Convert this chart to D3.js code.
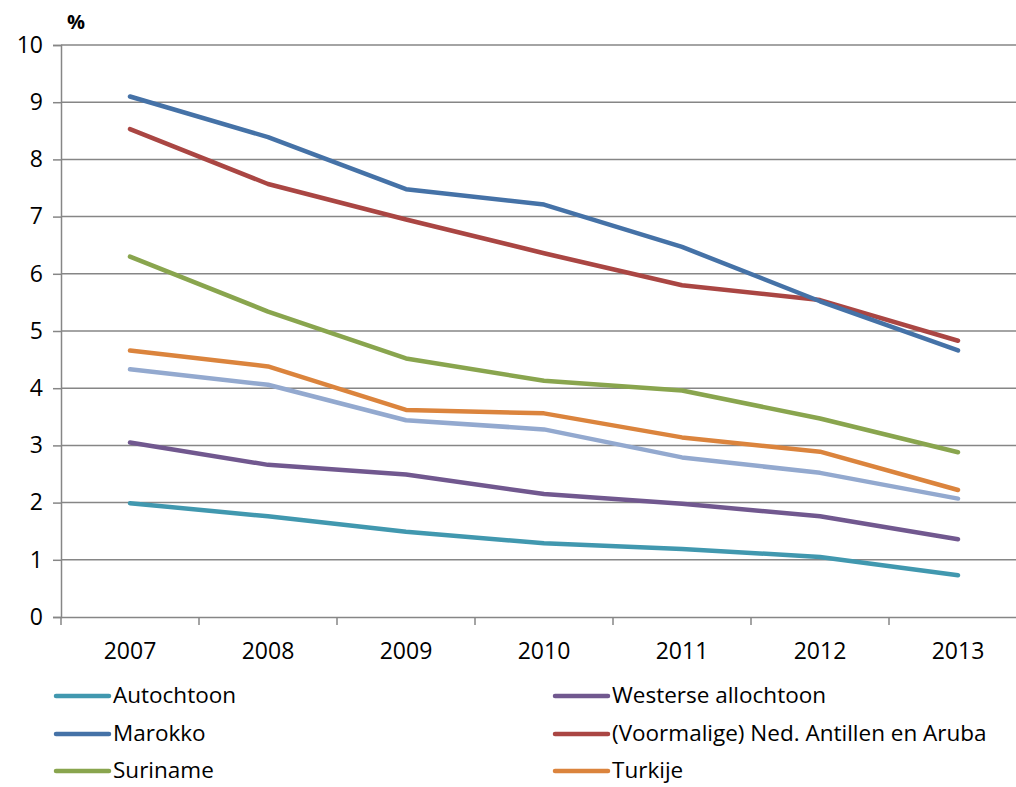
<!DOCTYPE html>
<html>
<head>
<meta charset="utf-8">
<script src="https://cdn.jsdelivr.net/npm/d3@7"></script>
<style>
  html, body { margin: 0; padding: 0; background: #fff; }
  svg { display: block; font-family: "Open Sans", "Liberation Sans", sans-serif; }
</style>
</head>
<body>
<svg id="chart" width="1016" height="787"></svg>
<script>
// Years on the category axis
const years = ["2007", "2008", "2009", "2010", "2011", "2012", "2013"];

// Percentages per group
const autochtoon      = [1.99, 1.76, 1.49, 1.29, 1.19, 1.05, 0.73];
const westers         = [3.05, 2.66, 2.49, 2.15, 1.98, 1.76, 1.36];
const marokko         = [9.10, 8.39, 7.48, 7.21, 6.47, 5.52, 4.66];
const antillen        = [8.53, 7.57, 6.95, 6.36, 5.80, 5.54, 4.83];
const suriname        = [6.30, 5.34, 4.52, 4.13, 3.96, 3.47, 2.88];
const turkije         = [4.66, 4.38, 3.62, 3.56, 3.14, 2.89, 2.22];
const overigNietWest  = [4.33, 4.06, 3.44, 3.28, 2.79, 2.52, 2.07];

const yTicks = [0, 1, 2, 3, 4, 5, 6, 7, 8, 9, 10];

const series = [
  { name: "Autochtoon", values: autochtoon, color: "#4198AF", legend: [0, 0] },
  { name: "Westerse allochtoon", values: westers, color: "#71588F", legend: [1, 0] },
  { name: "Marokko", values: marokko, color: "#4572A7", legend: [0, 1] },
  { name: "(Voormalige) Ned. Antillen en Aruba", values: antillen, color: "#AA4643", legend: [1, 1] },
  { name: "Suriname", values: suriname, color: "#89A54E", legend: [0, 2] },
  { name: "Turkije", values: turkije, color: "#DB843D", legend: [1, 2] },
  { name: "Overig niet-westers", values: overigNietWest, color: "#93A9CF", legend: null }
];

const svg = d3.select("#chart");
const plot = { left: 61, right: 1027, top: 45, bottom: 617 };
const fontSize = 23;

const x = d3.scaleBand().domain(years).range([plot.left, plot.right]);
const y = d3.scaleLinear().domain([0, 10]).range([plot.bottom, plot.top]);

const gridColor = "#868686";

// Horizontal gridlines
svg.append("g")
  .selectAll("line")
  .data(yTicks.filter(d => d > 0))
  .join("line")
  .attr("x1", plot.left).attr("x2", plot.right)
  .attr("y1", d => y(d)).attr("y2", d => y(d))
  .attr("stroke", gridColor).attr("stroke-width", 1.5);

// Y axis
const yAxis = svg.append("g")
  .attr("transform", `translate(${plot.left},0)`)
  .call(d3.axisLeft(y).tickValues(yTicks).tickSize(8).tickPadding(10).tickFormat(d3.format("d")));
yAxis.select(".domain").attr("stroke", gridColor).attr("stroke-width", 1.5);
yAxis.selectAll(".tick line").attr("stroke", gridColor).attr("stroke-width", 1.5);
yAxis.selectAll(".tick text").attr("font-size", fontSize).attr("fill", "#000")
  .attr("font-family", "Open Sans, sans-serif");

// X axis with ticks between categories
const xAxis = svg.append("g")
  .attr("transform", `translate(0,${plot.bottom})`)
  .call(d3.axisBottom(x).tickSize(0).tickPadding(26));
xAxis.select(".domain").attr("stroke", gridColor).attr("stroke-width", 1.5);
xAxis.selectAll(".tick text").attr("font-size", fontSize).attr("fill", "#000")
  .attr("font-family", "Open Sans, sans-serif");
xAxis.selectAll("line.sep")
  .data(years.concat(["end"]))
  .join("line")
  .attr("class", "sep")
  .attr("x1", (d, i) => plot.left + i * x.step())
  .attr("x2", (d, i) => plot.left + i * x.step())
  .attr("y1", 0).attr("y2", 8)
  .attr("stroke", gridColor).attr("stroke-width", 1.5);

// Unit label
svg.append("text")
  .attr("x", 67).attr("y", 29)
  .attr("font-size", 20).attr("font-weight", "bold")
  .text("%");

// Series lines
const line = d3.line()
  .x((d, i) => x(years[i]) + x.bandwidth() / 2)
  .y(d => y(d));

const drawOrder = [6, 0, 1, 4, 5, 3, 2];
svg.append("g")
  .selectAll("path")
  .data(drawOrder.map(i => series[i]))
  .join("path")
  .attr("d", d => line(d.values))
  .attr("fill", "none")
  .attr("stroke", d => d.color)
  .attr("stroke-width", 4.5)
  .attr("stroke-linecap", "round")
  .attr("stroke-linejoin", "round");

// Legend: two columns, three rows
const legendCols = [56, 555];
const legendRows = [696, 734, 771];
const leg = svg.append("g")
  .selectAll("g")
  .data(series.filter(s => s.legend))
  .join("g")
  .attr("transform", d => `translate(${legendCols[d.legend[0]]},${legendRows[d.legend[1]]})`);
leg.append("line")
  .attr("x1", 0).attr("x2", 53).attr("y1", 0).attr("y2", 0)
  .attr("stroke", d => d.color).attr("stroke-width", 4.5).attr("stroke-linecap", "round");
leg.append("text")
  .attr("x", 57).attr("y", 0).attr("dy", "0.33em")
  .attr("font-size", 22.5)
  .text(d => d.name);
</script>
</body>
</html>
